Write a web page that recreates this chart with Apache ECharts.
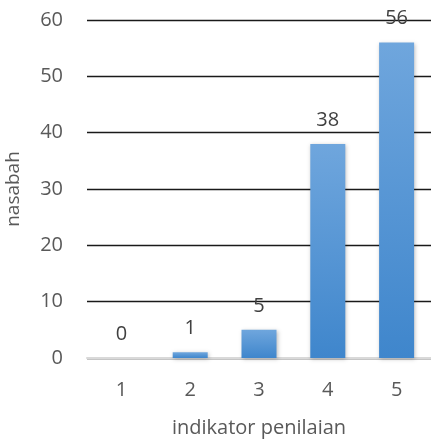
<!DOCTYPE html>
<html lang="en">
<head>
    <meta charset="UTF-8">
    <title>indikator penilaian</title>
    <script type="text/javascript" src="https://cdn.jsdelivr.net/npm/echarts@6/dist/echarts.min.js"></script>
    <style>
        html, body { margin: 0; padding: 0; background: #fff; }
        #chart { width: 431px; height: 441px; }
    </style>
</head>
<body>
<div id="chart"></div>

<script type="text/javascript">
    // data
    var categories = ['1', '2', '3', '4', '5'];
    var nasabah = [0, 1, 5, 38, 56];
    var yTicks = { min: 0, max: 60, interval: 10 };

    var font = 'Open Sans';
    var grey = '#595959';

    var myChart = echarts.init(document.getElementById('chart'));
    myChart.setOption({
        animation: false,
        grid: {
            left: 87,
            right: 0,
            top: 20,
            bottom: 83,
            outerBoundsMode: 'none'
        },
        xAxis: {
            type: 'category',
            data: categories,
            name: 'indikator penilaian',
            nameLocation: 'middle',
            nameGap: 60,
            nameTextStyle: { fontFamily: font, fontSize: 20, color: grey },
            axisLine: { lineStyle: { color: '#d9d9d9', width: 2 } },
            axisTick: { show: false },
            axisLabel: { fontFamily: font, fontSize: 20, color: grey, margin: 22 }
        },
        yAxis: {
            type: 'value',
            min: yTicks.min,
            max: yTicks.max,
            interval: yTicks.interval,
            name: 'nasabah',
            nameLocation: 'middle',
            nameGap: 64,
            nameTextStyle: { fontFamily: font, fontSize: 19, color: grey },
            axisLine: { show: false },
            axisTick: { show: false },
            axisLabel: { fontFamily: font, fontSize: 20, color: grey, margin: 24 },
            splitLine: { lineStyle: { color: '#1a1a1a', width: 1.3 } }
        },
        series: [
            {
                name: 'nasabah',
                type: 'bar',
                data: nasabah,
                barWidth: 35,
                itemStyle: {
                    color: new echarts.graphic.LinearGradient(0, 0, 0, 1, [
                        { offset: 0, color: '#6fa6dd' },
                        { offset: 1, color: '#3f86cc' }
                    ]),
                    shadowColor: 'rgba(0,0,0,0.25)',
                    shadowBlur: 4,
                    shadowOffsetX: 1,
                    shadowOffsetY: 1
                },
                label: {
                    show: true,
                    position: 'top',
                    distance: 14,
                    fontFamily: font,
                    fontSize: 20,
                    color: '#404040'
                }
            }
        ]
    });
</script>

</body>
</html>
